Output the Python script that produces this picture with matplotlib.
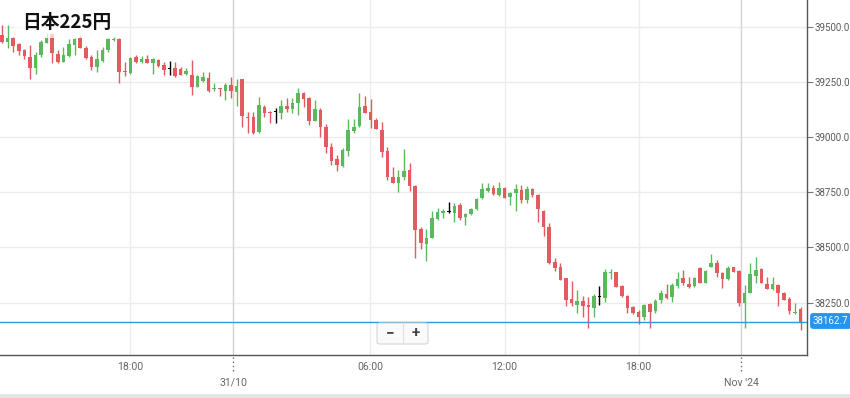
import matplotlib
matplotlib.use("Agg")
import matplotlib.pyplot as plt
from matplotlib.patches import Rectangle, FancyBboxPatch

plt.rcParams['font.family'] = ['Roboto', 'DejaVu Sans']

# ---- data (15-minute candles) ----
opens = [39462, 39431, 39449, 39422, 39394, 39363, 39313, 39372, 39426, 39469,
         39376, 39340, 39367, 39417, 39449, 39404, 39363, 39317, 39345, 39394,
         39440, 39444, 39299, 39290, 39363, 39340, 39354, 39336, 39349, 39326,
         39308, 39313, 39308, 39286, 39281, 39227, 39254, 39268, 39218, 39220,
         39209, 39236, 39204, 39261, 39091, 39091, 39023, 39136, 39114, 39114,
         39109, 39141, 39127, 39154, 39200, 39177, 39073, 39123, 39046, 38955,
         38901, 38869, 38937, 39028, 39050, 39141, 39114, 39077, 39032, 38937,
         38819, 38792, 38819, 38851, 38779, 38584, 38516, 38543, 38629, 38656,
         38659, 38656, 38692, 38638, 38652, 38674, 38724, 38756, 38769, 38738,
         38769, 38729, 38747, 38760, 38715, 38765, 38738, 38665, 38593, 38434,
         38412, 38360, 38267, 38240, 38258, 38240, 38226, 38276, 38271, 38385,
         38387, 38326, 38280, 38231, 38208, 38185, 38244, 38212, 38262, 38289,
         38276, 38326, 38362, 38335, 38326, 38407, 38339, 38412, 38430, 38384,
         38357, 38410, 38394, 38249, 38294, 38371, 38403, 38335, 38312, 38330,
         38294, 38267, 38203, 38221]
highs = [39508, 39508, 39453, 39426, 39399, 39417, 39385, 39440, 39471, 39471,
         39394, 39408, 39444, 39449, 39462, 39413, 39372, 39394, 39408, 39449,
         39453, 39449, 39340, 39363, 39372, 39367, 39372, 39358, 39354, 39340,
         39345, 39340, 39317, 39313, 39349, 39281, 39295, 39295, 39245, 39222,
         39245, 39272, 39263, 39263, 39114, 39114, 39182, 39145, 39118, 39132,
         39168, 39177, 39177, 39222, 39204, 39182, 39168, 39132, 39059, 38973,
         38919, 38951, 39082, 39082, 39200, 39186, 39173, 39087, 39068, 38955,
         38865, 38851, 38946, 38883, 38783, 38593, 38584, 38665, 38679, 38674,
         38706, 38702, 38702, 38656, 38679, 38724, 38792, 38792, 38783, 38797,
         38774, 38751, 38788, 38783, 38779, 38769, 38742, 38670, 38611, 38452,
         38430, 38362, 38348, 38307, 38280, 38276, 38289, 38326, 38403, 38403,
         38389, 38330, 38285, 38235, 38217, 38244, 38249, 38267, 38307, 38335,
         38339, 38389, 38398, 38366, 38366, 38412, 38398, 38470, 38443, 38389,
         38416, 38412, 38398, 38330, 38430, 38457, 38407, 38366, 38366, 38335,
         38298, 38276, 38249, 38231]
lows = [39428, 39404, 39385, 39372, 39354, 39263, 39286, 39363, 39424, 39336,
        39336, 39338, 39363, 39372, 39402, 39354, 39304, 39295, 39340, 39385,
        39435, 39245, 39277, 39286, 39336, 39336, 39334, 39286, 39317, 39281,
        39281, 39272, 39279, 39281, 39191, 39225, 39250, 39204, 39209, 39186,
        39168, 39177, 39141, 39046, 39019, 39016, 39019, 39091, 39064, 39064,
        39082, 39114, 39109, 39100, 39136, 39055, 39071, 39000, 38928, 38874,
        38846, 38865, 38914, 39019, 39046, 39107, 39041, 39035, 38910, 38806,
        38790, 38751, 38806, 38756, 38452, 38493, 38439, 38541, 38625, 38634,
        38656, 38616, 38625, 38602, 38647, 38670, 38720, 38751, 38738, 38733,
        38722, 38692, 38665, 38702, 38702, 38729, 38616, 38552, 38427, 38394,
        38351, 38235, 38235, 38203, 38185, 38135, 38185, 38240, 38253, 38357,
        38319, 38276, 38203, 38201, 38154, 38172, 38135, 38203, 38249, 38267,
        38253, 38317, 38330, 38317, 38321, 38337, 38337, 38410, 38366, 38317,
        38353, 38387, 38235, 38135, 38292, 38339, 38337, 38310, 38307, 38235,
        38260, 38199, 38199, 38126]
closes = [39431, 39449, 39413, 39390, 39367, 39313, 39372, 39431, 39449, 39381,
          39340, 39372, 39422, 39444, 39404, 39358, 39317, 39354, 39394, 39444,
          39444, 39295, 39295, 39358, 39340, 39354, 39336, 39354, 39322, 39304,
          39308, 39277, 39281, 39299, 39227, 39277, 39272, 39209, 39222, 39218,
          39236, 39209, 39231, 39096, 39087, 39019, 39145, 39109, 39109, 39114,
          39141, 39127, 39154, 39200, 39173, 39073, 39127, 39046, 38955, 38892,
          38874, 38942, 39032, 39046, 39136, 39109, 39077, 39037, 38932, 38819,
          38792, 38819, 38846, 38779, 38579, 38520, 38543, 38634, 38661, 38665,
          38659, 38688, 38634, 38652, 38674, 38720, 38765, 38769, 38742, 38769,
          38724, 38747, 38765, 38715, 38765, 38738, 38674, 38593, 38430, 38407,
          38353, 38262, 38249, 38258, 38235, 38231, 38280, 38276, 38389, 38389,
          38321, 38280, 38226, 38203, 38185, 38240, 38208, 38258, 38294, 38271,
          38330, 38357, 38339, 38321, 38362, 38339, 38394, 38430, 38384, 38357,
          38407, 38389, 38249, 38294, 38380, 38398, 38339, 38312, 38335, 38294,
          38262, 38212, 38208, 38162.7]

last_price = 38162.7
title = "日本225円"

y_ticks = [38250, 38500, 38750, 39000, 39250, 39500]
time_tick_labels = ["18:00", "06:00", "12:00", "18:00"]
time_tick_idx = [23.0, 65.9, 90.0, 114.0]
date_tick_labels = ["31/10", "Nov '24"]
date_tick_idx = [41.4, 132.4]

UP = "#5cb85c"
DOWN = "#e35b5f"
FLAT = "#000000"

W, H = 850, 398
fig = plt.figure(figsize=(W / 100, H / 100), dpi=100)
fig.patch.set_facecolor("white")
ax = fig.add_axes([0, 43 / H, 807 / W, 355 / H])
ax.set_facecolor("white")

n = len(opens)
idx = list(range(n))
cols = []
bottoms = []
heights = []
for o, c in zip(opens, closes):
    if c > o:
        cols.append(UP)
    elif c < o:
        cols.append(DOWN)
    else:
        cols.append(FLAT)
    bottoms.append(min(o, c))
    heights.append(max(abs(c - o), 4.5))

ax.vlines(idx, lows, highs, colors=cols, linewidth=1.0, zorder=3)
ax.bar(idx, heights, bottom=bottoms, width=0.64, color=cols, linewidth=0, zorder=4)

ax.set_xlim(-0.36, 144.16)
ax.set_ylim(38013.1, 39620.9)

# grid
for yv in y_ticks:
    ax.axhline(yv, color="#ebebeb", lw=1, zorder=0)
for p in time_tick_idx:
    ax.axvline(p, color="#ececec", lw=1, zorder=0)
for p in date_tick_idx:
    ax.axvline(p, color="#d4d4d4", lw=1, zorder=0)

# last price line
ax.axhline(last_price, color="#2b9bd3", lw=1, zorder=5)

# spines
for s in ["top", "left"]:
    ax.spines[s].set_visible(False)
ax.spines["bottom"].set_color("#555555")
ax.spines["right"].set_color("#555555")
ax.spines["bottom"].set_linewidth(1)
ax.spines["right"].set_linewidth(1)

ax.yaxis.tick_right()
ax.set_yticks(y_ticks)
ax.set_yticklabels([f"{v:.1f}" for v in y_ticks])
ax.tick_params(axis="y", length=4, width=0.8, color="#777777",
               labelsize=7.0, labelcolor="#5a5a5a", pad=1.5)
ax.set_xticks([])

xt = ax.get_xaxis_transform()
for p, lab in zip(time_tick_idx, time_tick_labels):
    ax.text(p, -12 / 355, lab, transform=xt, ha="center", va="center",
            fontsize=7.6, color="#666666")
for p, lab in zip(date_tick_idx, date_tick_labels):
    ax.text(p, -28 / 355, lab, transform=xt, ha="center", va="center",
            fontsize=7.6, color="#666666")
    ax.plot([p, p], [-2 / 355, -18 / 355], transform=xt, ls=(0, (1, 2)),
            color="#666666", lw=1, clip_on=False)

# last price badge
fig.text(813 / W, 1 - 321 / H, f"{last_price:.1f}", color="white",
         fontsize=7.0, ha="left", va="center",
         bbox=dict(boxstyle="round,pad=0.3,rounding_size=0.3",
                   fc="#2196f3", ec="none"))

# title with translucent backdrop
fig.patches.append(Rectangle((15 / W, 1 - 38 / H), 97 / W, 34 / H,
                             transform=fig.transFigure, fc="white",
                             alpha=0.72, ec="none", zorder=2))
fig.text(22 / W, 1 - 22 / H, title, fontsize=13.5, fontweight="bold",
         family=["Noto Sans CJK JP", "DejaVu Sans"], ha="left", va="center",
         color="#111111", zorder=3)

# zoom buttons
fig.patches.append(FancyBboxPatch((377 / W, 1 - 344 / H), 51 / W, 21 / H,
                                  boxstyle="round,pad=0,rounding_size=0.004",
                                  transform=fig.transFigure, fc="#fafafa",
                                  ec="#d6d6d6", lw=0.8, zorder=2))
fig.lines.append(plt.Line2D([403 / W, 403 / W], [1 - 343 / H, 1 - 324 / H],
                            transform=fig.transFigure, color="#e0e0e0", lw=0.8,
                            zorder=3))
fig.text(390 / W, 1 - 333 / H, "−", fontsize=11, fontweight="bold",
         color="#444444", ha="center", va="center", zorder=4)
fig.text(416 / W, 1 - 333 / H, "+", fontsize=11, fontweight="bold",
         color="#444444", ha="center", va="center", zorder=4)

# bottom strip
fig.patches.append(Rectangle((0, 0), 1, 4 / H, transform=fig.transFigure,
                             fc="#e6e6e6", ec="none", zorder=2))

fig.savefig("out.png", dpi=100, facecolor="white")
